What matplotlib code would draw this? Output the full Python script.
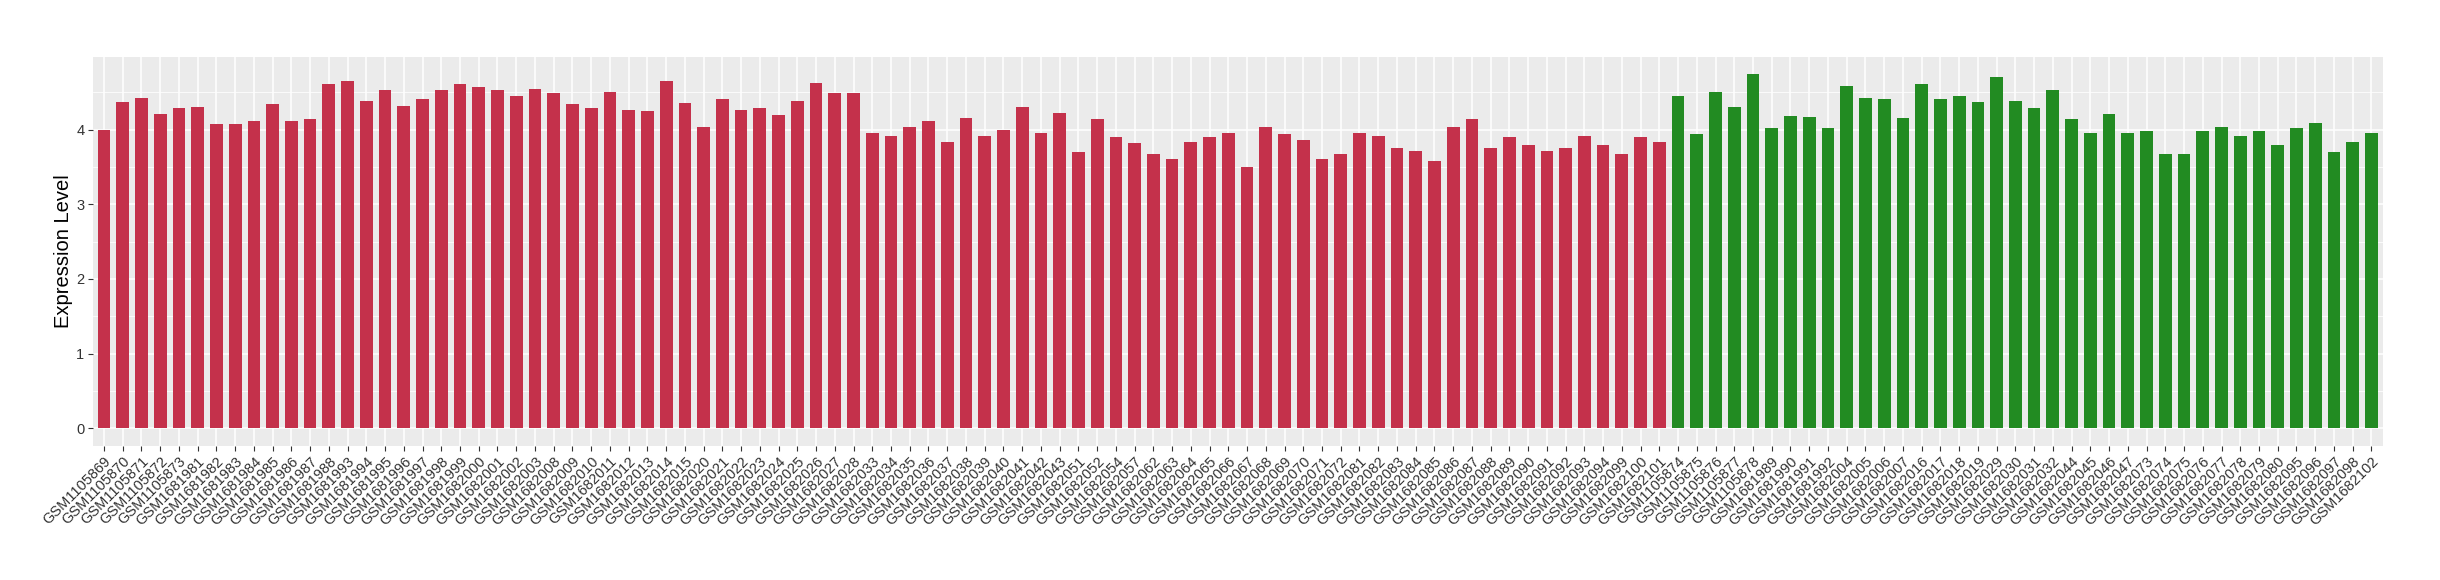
import matplotlib
matplotlib.use("Agg")
import matplotlib.pyplot as plt
import numpy as np
from matplotlib.ticker import MultipleLocator

plt.rcParams['font.family'] = ['Liberation Sans', 'DejaVu Sans']

# sample groups
red_samples = (
    ['GSM110586%d' % i for i in (9,)] + ['GSM11058%d' % i for i in (70, 71, 72, 73)]
    + ['GSM16819%d' % i for i in (81, 82, 83, 84, 85, 86, 87, 88, 93, 94, 95, 96, 97, 98, 99)]
    + ['GSM16820%02d' % i for i in (0, 1, 2, 3, 8, 9, 10, 11, 12, 13, 14, 15, 20, 21, 22, 23, 24,
                                     25, 26, 27, 28, 33, 34, 35, 36, 37, 38, 39, 40, 41, 42, 43,
                                     51, 52, 54, 57, 62, 63, 64, 65, 66, 67, 68, 69, 70, 71, 72,
                                     81, 82, 83, 84, 85, 86, 87, 88, 89, 90, 91, 92, 93, 94, 99)]
    + ['GSM1682100', 'GSM1682101']
)
red_values = [
    4.00, 4.37, 4.42, 4.21, 4.29, 4.30, 4.07, 4.07, 4.11, 4.34, 4.11, 4.14, 4.61,
    4.65, 4.38, 4.53, 4.31, 4.41, 4.53, 4.61, 4.57, 4.53, 4.45, 4.54, 4.49, 4.34,
    4.29, 4.51, 4.26, 4.25, 4.65, 4.35, 4.03, 4.41, 4.26, 4.29, 4.19, 4.39, 4.63,
    4.49, 4.49, 3.95, 3.91, 4.03, 4.11, 3.84, 4.15, 3.92, 3.99, 4.30, 3.95, 4.22,
    3.70, 4.14, 3.90, 3.82, 3.68, 3.60, 3.83, 3.90, 3.96, 3.50, 4.03, 3.94, 3.86,
    3.60, 3.68, 3.95, 3.92, 3.76, 3.71, 3.58, 4.03, 4.14, 3.76, 3.90, 3.79, 3.72,
    3.75, 3.91, 3.79, 3.68, 3.90, 3.84,
]

green_samples = (
    ['GSM11058%d' % i for i in (74, 75, 76, 77, 78)]
    + ['GSM16819%d' % i for i in (89, 90, 91, 92)]
    + ['GSM16820%02d' % i for i in (4, 5, 6, 7, 16, 17, 18, 19, 29, 30, 31, 32, 44, 45, 46, 47,
                                     73, 74, 75, 76, 77, 78, 79, 80, 95, 96, 97, 98)]
    + ['GSM1682102']
)
green_values = [
    4.45, 3.94, 4.51, 4.30, 4.74, 4.02, 4.18, 4.17, 4.02, 4.58, 4.42, 4.41, 4.15,
    4.61, 4.41, 4.45, 4.37, 4.71, 4.39, 4.29, 4.53, 4.14, 3.95, 4.21, 3.95, 3.98,
    3.67, 3.68, 3.98, 4.03, 3.91, 3.98, 3.80, 4.02, 4.09, 3.70, 3.84, 3.95,
]

samples = red_samples + green_samples
values = red_values + green_values
colors = ['#C4314B'] * len(red_values) + ['#228B22'] * len(green_values)

fig = plt.figure(figsize=(24.4, 5.8), dpi=100)
ax = fig.add_axes([0.038, 0.231, 0.9385, 0.6713])

x = np.arange(len(samples))
ax.bar(x, values, width=0.68, color=colors, zorder=3)

ax.set_facecolor('#EBEBEB')
ax.set_xlim(-0.6, len(samples) - 1 + 0.6)
ax.set_ylim(-0.237, 4.977)
ax.yaxis.set_major_locator(MultipleLocator(1))
ax.yaxis.set_minor_locator(MultipleLocator(0.5))
ax.grid(which='major', color='white', linewidth=1.1, zorder=0)
ax.grid(which='minor', axis='y', color='white', linewidth=0.55, zorder=0)
ax.set_axisbelow(True)
for s in ax.spines.values():
    s.set_visible(False)

ax.set_xticks(x)
ax.set_xticklabels(samples, rotation=45, ha='right', rotation_mode='anchor',
                   fontsize=10.5, color='#333333')
ax.tick_params(axis='both', which='major', length=3.5, width=0.8, color='#333333',
               labelsize=10.5, labelcolor='#333333', pad=2.5)
ax.tick_params(axis='y', which='minor', length=0)
ax.set_ylabel('Expression Level', fontsize=14.5, color='black')
ax.yaxis.set_label_coords(-0.0085, 0.5)

fig.savefig('out.png', dpi=100, facecolor='white')
